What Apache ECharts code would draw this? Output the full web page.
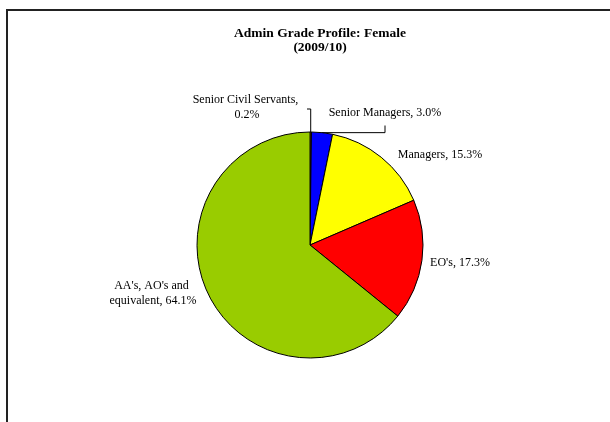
<!DOCTYPE html>
<html>
<head>
<meta charset="utf-8">
<script src="https://cdn.jsdelivr.net/npm/echarts@6/dist/echarts.min.js"></script>
<style>
  html, body { margin: 0; padding: 0; background: #fff; }
  #wrap { position: relative; width: 610px; height: 422px; overflow: hidden; }
  #chart { position: absolute; left: 0; top: 0; width: 610px; height: 422px; }
  #frame { position: absolute; left: 6px; top: 9px; width: 620px; height: 430px;
           border-top: 2px solid #222; border-left: 2px solid #222; pointer-events: none; }
</style>
</head>
<body>
<div id="wrap">
  <div id="chart"></div>
  <div id="frame"></div>
</div>
<script>
// Admin grade profile, female staff, 2009/10 (percent of total)
const categories = [
  "Senior Civil Servants",
  "Senior Managers",
  "Managers",
  "EO's",
  "AA's, AO's and equivalent"
];
const shares = [0.2, 3.0, 15.3, 17.3, 64.1];
const sliceColors = ['#CC6600', '#0000FF', '#FFFF00', '#FF0000', '#99CC00'];

// Label anchor (centre) for each slice label
const labelSpots = [
  [247, 107],
  [385, 113],
  [440, 155],
  [460, 263],
  [153, 293]
];
// slices whose labels carry a leader line
const withLeader = [true, true, false, false, false];
// wrap width for labels that break onto two lines
const wrapWidth = [112, null, null, null, 92];

const FONT = '"Liberation Serif", "Times New Roman", serif';

const chart = echarts.init(document.getElementById('chart'), null, { renderer: 'canvas' });

const data = categories.map((name, i) => {
  const item = {
    name: name,
    value: shares[i],
    itemStyle: { color: sliceColors[i] },
    labelLine: { show: withLeader[i] }
  };
  if (wrapWidth[i]) {
    item.label = { width: wrapWidth[i], overflow: 'break' };
  }
  return item;
});

chart.setOption({
  backgroundColor: '#ffffff',
  animation: false,
  title: {
    text: 'Admin Grade Profile: Female\n(2009/10)',
    left: 315,
    top: 22,
    textAlign: 'center',
    textStyle: {
      fontFamily: FONT,
      fontSize: 13.5,
      fontWeight: 'bold',
      color: '#000',
      lineHeight: 13.5
    }
  },
  series: [{
    type: 'pie',
    center: [310, 245],
    radius: 113,
    startAngle: 90,
    clockwise: true,
    avoidLabelOverlap: false,
    itemStyle: { borderColor: '#000', borderWidth: 1 },
    emphasis: { disabled: true },
    label: {
      show: true,
      position: 'outside',
      fontFamily: FONT,
      fontSize: 12,
      lineHeight: 15,
      color: '#000',
      align: 'center',
      formatter: p => p.name + ', ' + p.value.toFixed(1) + '%'
    },
    labelLine: {
      show: false,
      length: 10,
      length2: 10,
      lineStyle: { color: '#000', width: 1 }
    },
    labelLayout: function (params) {
      const i = params.dataIndex;
      const [cx, cy] = labelSpots[i];
      const w = params.labelRect.width;
      const h = params.labelRect.height;
      const out = { x: cx, y: cy, align: 'center', verticalAlign: 'middle' };
      const pts = params.labelLinePoints;
      if (withLeader[i] && pts) {
        const a = pts[0];
        if (i === 0) {
          // vertical rise from the slice, then across to the label's right edge
          const right = cx + w / 2 + 4;
          out.labelLinePoints = [[a[0], a[1]], [a[0], cy + 2], [right, cy + 2]];
        } else {
          // along the rim, then up towards the label's bottom
          out.labelLinePoints = [[a[0], a[1]], [cx, a[1]], [cx, cy + h / 2 + 5]];
        }
      }
      return out;
    },
    data: data
  }]
});
</script>
</body>
</html>
